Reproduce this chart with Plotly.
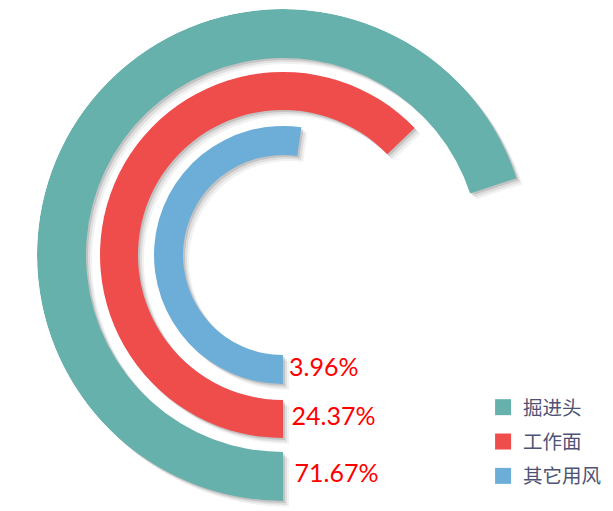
import plotly.graph_objects as go

# ---- data ----
categories = ["掘进头", "工作面", "其它用风"]
percent_labels = ["71.67%", "24.37%", "3.96%"]
arc_degrees = [251.8, 226.0, 188.2]      # angular extent of each ring (clockwise from bottom)
colors = ["#67b1ad", "#ef4c4c", "#6daed9"]

# ---- geometry / style ----
W, H = 613, 511
R = 246
cx, cy = 275, 247
ring_inner = [197, 145, 100]
ring_thick = [49, 38, 29]


def domain(dx=0, dy=0):
    return dict(x=[(cx - R + dx) / W, (cx + R + dx) / W],
                y=[1 - (cy + R + dy) / H, min(1.0, 1 - (cy - R + dy) / H)])


def polar_cfg(dx=0, dy=0):
    return dict(
        domain=domain(dx, dy),
        bgcolor="rgba(0,0,0,0)",
        radialaxis=dict(visible=False, range=[0, R]),
        angularaxis=dict(visible=False, rotation=-90, direction="clockwise"),
        hole=0,
    )


fig = go.Figure()

shadow_layers = [("polar", 6, 6, "rgba(0,0,0,0.05)"),
                 ("polar2", 4, 4, "rgba(0,0,0,0.08)"),
                 ("polar3", 2, 2, "rgba(0,0,0,0.12)")]
for sub, dx, dy, col in shadow_layers:
    for i in range(len(categories)):
        fig.add_trace(go.Barpolar(
            r=[ring_thick[i]], base=[ring_inner[i]],
            theta=[arc_degrees[i] / 2], width=[arc_degrees[i]],
            marker=dict(color=col, line=dict(width=0)),
            subplot=sub, showlegend=False, hoverinfo="skip"))

for i in range(len(categories)):
    fig.add_trace(go.Barpolar(
        r=[ring_thick[i]], base=[ring_inner[i]],
        theta=[arc_degrees[i] / 2], width=[arc_degrees[i]],
        marker=dict(color=colors[i], line=dict(width=0)),
        name=categories[i], subplot="polar4", showlegend=False))

# percentage labels at the start (bottom) of each ring
fig.add_trace(go.Scatterpolar(
    r=[ring_inner[i] + ring_thick[i] / 2 for i in range(len(categories))],
    theta=[-3] * len(categories),
    mode="text", text=percent_labels, textposition="middle right",
    textfont=dict(family="Lato", size=25, color="#ff0000"),
    subplot="polar4", showlegend=False, hoverinfo="skip"))

# legend entries
for i in range(len(categories)):
    fig.add_trace(go.Scatterpolar(
        r=[None], theta=[None], mode="markers",
        marker=dict(symbol="square", size=16, color=colors[i]),
        name=categories[i], legendgroup=categories[i], subplot="polar4"))

fig.update_layout(
    width=W, height=H,
    margin=dict(l=0, r=0, t=0, b=0),
    paper_bgcolor="white", plot_bgcolor="white",
    polar=polar_cfg(6, 6), polar2=polar_cfg(4, 4), polar3=polar_cfg(2, 2),
    polar4=polar_cfg(),
    showlegend=True,
    legend=dict(x=0.775, y=1 - 380 / H, xanchor="left", yanchor="top",
                font=dict(family="Noto Sans CJK SC", size=19.5, color="#4e5274"),
                tracegroupgap=6, bgcolor="rgba(0,0,0,0)"),
    template="none",
)

fig.write_html("out.html")
